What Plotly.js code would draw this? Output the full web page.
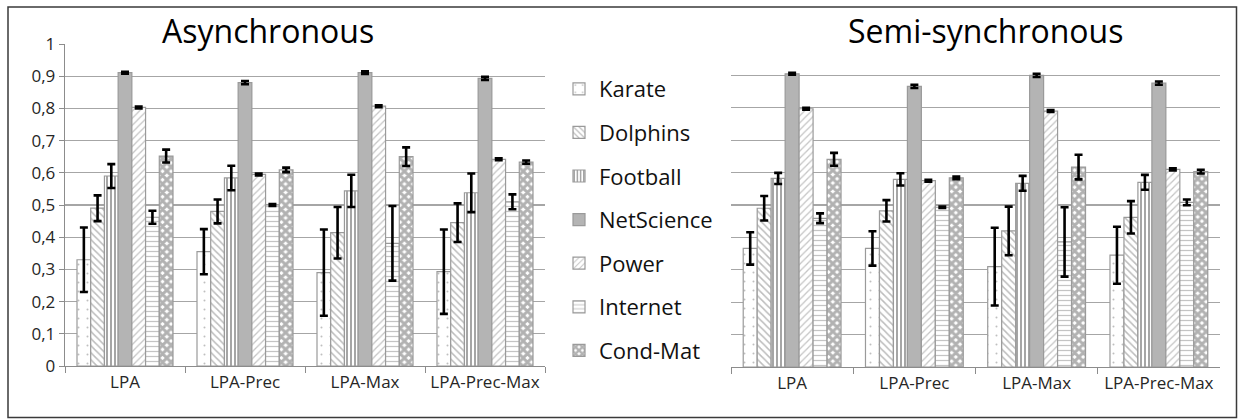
<!DOCTYPE html>
<html>
<head>
<meta charset="utf-8">
<script src="https://cdn.plot.ly/plotly-3.0.1.min.js"></script>
<style>html,body{margin:0;padding:0;background:#fff;}#chart{width:1238px;height:419px;}</style>
</head>
<body>
<div id="chart"></div>
<script>
const categories = ['LPA', 'LPA-Prec', 'LPA-Max', 'LPA-Prec-Max'];
const seriesNames = ['Karate', 'Dolphins', 'Football', 'NetScience', 'Power', 'Internet', 'Cond-Mat'];
const yTickVals = [0, 0.1, 0.2, 0.3, 0.4, 0.5, 0.6, 0.7, 0.8, 0.9, 1];
const yTickText = ['0', '0,1', '0,2', '0,3', '0,4', '0,5', '0,6', '0,7', '0,8', '0,9', '1'];

// Asynchronous
const asyncKarate = [0.33, 0.355, 0.29, 0.293];
const asyncKarateErr = [0.10, 0.07, 0.134, 0.131];
const asyncDolphins = [0.49, 0.48, 0.414, 0.445];
const asyncDolphinsErr = [0.04, 0.037, 0.08, 0.06];
const asyncFootball = [0.59, 0.584, 0.544, 0.538];
const asyncFootballErr = [0.037, 0.038, 0.05, 0.06];
const asyncNetScience = [0.911, 0.88, 0.911, 0.893];
const asyncNetScienceErr = [0.003, 0.005, 0.004, 0.005];
const asyncPower = [0.803, 0.595, 0.807, 0.642];
const asyncPowerErr = [0.003, 0.003, 0.003, 0.003];
const asyncInternet = [0.462, 0.5, 0.381, 0.51];
const asyncInternetErr = [0.02, 0.003, 0.116, 0.023];
const asyncCondMat = [0.652, 0.609, 0.65, 0.633];
const asyncCondMatErr = [0.02, 0.007, 0.029, 0.005];

// Semi-synchronous
const semiKarate = [0.366, 0.366, 0.31, 0.345];
const semiKarateErr = [0.05, 0.053, 0.12, 0.088];
const semiDolphins = [0.49, 0.482, 0.42, 0.462];
const semiDolphinsErr = [0.038, 0.033, 0.075, 0.05];
const semiFootball = [0.582, 0.579, 0.567, 0.57];
const semiFootballErr = [0.017, 0.019, 0.023, 0.023];
const semiNetScience = [0.905, 0.866, 0.9, 0.876];
const semiNetScienceErr = [0.003, 0.005, 0.005, 0.005];
const semiPower = [0.797, 0.575, 0.79, 0.61];
const semiPowerErr = [0.003, 0.003, 0.003, 0.003];
const semiInternet = [0.459, 0.493, 0.386, 0.508];
const semiInternetErr = [0.015, 0.002, 0.107, 0.009];
const semiCondMat = [0.641, 0.584, 0.617, 0.603];
const semiCondMatErr = [0.02, 0.004, 0.038, 0.006];

const asyncVals = [asyncKarate, asyncDolphins, asyncFootball, asyncNetScience, asyncPower, asyncInternet, asyncCondMat];
const asyncErrs = [asyncKarateErr, asyncDolphinsErr, asyncFootballErr, asyncNetScienceErr, asyncPowerErr, asyncInternetErr, asyncCondMatErr];
const semiVals = [semiKarate, semiDolphins, semiFootball, semiNetScience, semiPower, semiInternet, semiCondMat];
const semiErrs = [semiKarateErr, semiDolphinsErr, semiFootballErr, semiNetScienceErr, semiPowerErr, semiInternetErr, semiCondMatErr];

const patterns = [
  {shape: '.', fgcolor: '#808080', bgcolor: '#ffffff', size: 9, solidity: 0.04, fillmode: 'overlay'},
  {shape: '\\', fgcolor: '#7a7a7a', bgcolor: '#ffffff', size: 5, solidity: 0.3, fillmode: 'overlay'},
  {shape: '|', fgcolor: '#000000', bgcolor: '#ffffff', size: 4, solidity: 0.35, fillmode: 'overlay'},
  {shape: '', fgcolor: '#b4b4b4', bgcolor: '#b4b4b4', size: 8, solidity: 0.3, fillmode: 'overlay'},
  {shape: '/', fgcolor: '#8a8a8a', bgcolor: '#ffffff', size: 5, solidity: 0.25, fillmode: 'overlay'},
  {shape: '-', fgcolor: '#8a8a8a', bgcolor: '#ffffff', size: 5, solidity: 0.25, fillmode: 'overlay'},
  {shape: 'x', fgcolor: '#666666', bgcolor: '#ffffff', size: 6, solidity: 0.75, fillmode: 'overlay'}
];
const fills = ['#ffffff', '#ffffff', '#ffffff', '#b4b4b4', '#ffffff', '#ffffff', '#ffffff'];

const traces = [];
function addTraces(vals, errs, xa, ya, showLegend) {
  seriesNames.forEach((name, i) => {
    traces.push({
      type: 'bar',
      name: name,
      legendgroup: name,
      showlegend: showLegend,
      x: categories,
      y: vals[i],
      xaxis: xa,
      yaxis: ya,
      marker: {color: fills[i], line: {color: '#9a9a9a', width: 1.2}, pattern: patterns[i]},
      error_y: {type: 'data', array: errs[i], visible: true, color: '#000000', thickness: 2.6, width: 4}
    });
  });
}
addTraces(asyncVals, asyncErrs, 'x', 'y', true);
addTraces(semiVals, semiErrs, 'x2', 'y2', false);

const W = 1238, H = 419;
const px = v => v / W, py = v => 1 - v / H;
const tickFont = {family: 'Open Sans, sans-serif', size: 17, color: '#262626'};

const layout = {
  width: W, height: H,
  margin: {l: 0, r: 0, t: 0, b: 0},
  paper_bgcolor: '#ffffff',
  plot_bgcolor: '#ffffff',
  barmode: 'group',
  bargap: 0.2,
  bargroupgap: 0,
  showlegend: true,
  font: {family: 'Open Sans, sans-serif', color: '#1a1a1a'},
  xaxis: {
    domain: [px(65), px(545)], anchor: 'y',
    showline: true, linecolor: '#8c8c8c', linewidth: 1.3,
    ticks: 'outside', tickson: 'boundaries', ticklen: 6, tickcolor: '#8c8c8c',
    tickfont: tickFont, showgrid: false, fixedrange: true
  },
  yaxis: {
    domain: [py(366), py(44)], anchor: 'x', range: [0, 1],
    tickvals: yTickVals, ticktext: yTickText,
    showline: true, linecolor: '#8c8c8c', linewidth: 1.3,
    ticks: 'outside', ticklen: 5, tickcolor: '#8c8c8c',
    showgrid: true, gridcolor: '#a6a6a6', gridwidth: 1.3,
    zeroline: false, tickfont: tickFont, fixedrange: true
  },
  xaxis2: {
    domain: [px(731), px(1220)], anchor: 'y2',
    showline: true, linecolor: '#8c8c8c', linewidth: 1.3,
    ticks: 'outside', tickson: 'boundaries', ticklen: 6, tickcolor: '#8c8c8c',
    tickfont: tickFont, showgrid: false, fixedrange: true
  },
  yaxis2: {
    domain: [py(367), py(43)], anchor: 'x2', range: [0, 1],
    tickvals: yTickVals, showticklabels: false,
    showline: false, ticks: '',
    showgrid: true, gridcolor: '#a6a6a6', gridwidth: 1.3,
    zeroline: false, fixedrange: true
  },
  legend: {
    x: px(559), xanchor: 'left',
    y: py(68), yanchor: 'top',
    font: {family: 'Open Sans, sans-serif', size: 22, color: '#111111'},
    tracegroupgap: 12,
    bgcolor: 'rgba(0,0,0,0)'
  },
  annotations: [
    {text: 'Asynchronous', xref: 'paper', yref: 'paper', x: px(268), y: py(31), xanchor: 'center', yanchor: 'middle',
     showarrow: false, font: {family: 'Open Sans, sans-serif', size: 32, color: '#000000'}},
    {text: 'Semi-synchronous', xref: 'paper', yref: 'paper', x: px(985), y: py(31), xanchor: 'center', yanchor: 'middle',
     showarrow: false, font: {family: 'Open Sans, sans-serif', size: 32, color: '#000000'}}
  ],
  shapes: [
    {type: 'rect', xref: 'paper', yref: 'paper', x0: px(8), x1: px(1236.5), y0: py(417.5), y1: py(7),
     line: {color: '#3a3a3a', width: 1.5}, fillcolor: 'rgba(0,0,0,0)', layer: 'below'}
  ]
};

Plotly.newPlot('chart', traces, layout, {displayModeBar: false, staticPlot: true});
</script>
</body>
</html>
